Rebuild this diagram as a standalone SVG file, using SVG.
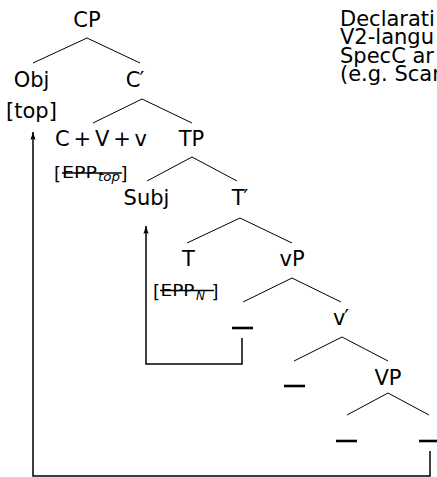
<svg xmlns="http://www.w3.org/2000/svg" width="437" height="477" viewBox="0 0 437 477">
  <style>
    text { font-family: "DejaVu Sans", "Liberation Sans", sans-serif; fill: #000; }
    .lab { font-size: 21px; text-anchor: middle; }
    .note { font-size: 21px; }
    .br { font-size: 18px; }
    .feat { font-size: 15px; }
    .sub { font-size: 12px; font-style: italic; }
    .branch { stroke: #000; stroke-width: 1; fill: none; }
    .move { stroke: #000; stroke-width: 1.5; fill: none; stroke-linejoin: miter; }
    .strike { stroke: #000; stroke-width: 1.6; }
    .trace { stroke: #000; stroke-width: 2.6; }
  </style>
  <defs>
    <marker id="head" viewBox="-4 -4 10 8" markerWidth="10" markerHeight="8" refX="5" refY="0" orient="auto" markerUnits="userSpaceOnUse">
      <path d="M5,0 L-3,-2.6 L-1.5,0 L-3,2.6 Z" fill="#000"/>
    </marker>
  </defs>

  <!-- tree branches and movement arrows -->
  <g id="connectors">
    <line class="branch" x1="87" y1="38" x2="33" y2="63"/>
    <line class="branch" x1="87" y1="38" x2="140" y2="63"/>
    <line class="branch" x1="142" y1="99" x2="93" y2="123"/>
    <line class="branch" x1="142" y1="99" x2="192" y2="123"/>
    <line class="branch" x1="192" y1="157" x2="147" y2="181"/>
    <line class="branch" x1="192" y1="157" x2="237" y2="181"/>
    <line class="branch" x1="240" y1="218" x2="187" y2="243"/>
    <line class="branch" x1="240" y1="218" x2="292" y2="243"/>
    <line class="branch" x1="292" y1="278" x2="243" y2="302"/>
    <line class="branch" x1="292" y1="278" x2="341" y2="302"/>
    <line class="branch" x1="342" y1="337" x2="294" y2="361"/>
    <line class="branch" x1="342" y1="337" x2="388" y2="361"/>
    <line class="branch" x1="388" y1="393" x2="347" y2="415"/>
    <line class="branch" x1="388" y1="393" x2="429" y2="415"/>
    <path class="move" d="M242,338 V364 H146 V226" marker-end="url(#head)"/>
    <path class="move" d="M430,451 V476 H33 V132" marker-end="url(#head)"/>
  </g>

  <g id="CP"><text class="lab" x="87" y="27">CP</text></g>
  <g id="Obj">
    <text class="lab" x="31.5" y="87">Obj</text>
    <text class="lab" x="31.5" y="118">[top]</text>
  </g>
  <g id="C-bar"><text class="lab" x="135" y="87">C<tspan dx="-1">′</tspan></text></g>
  <g id="C-head">
    <text class="note" x="55" y="146" textLength="92" lengthAdjust="spacing">C+V+v</text>
    <text class="br" x="54" y="179.5">[</text>
    <text class="feat" x="62" y="178" textLength="35" lengthAdjust="spacingAndGlyphs">EPP</text>
    <text class="sub" x="98" y="181" textLength="22" lengthAdjust="spacingAndGlyphs">top</text>
    <text class="br" x="120.5" y="179.5">]</text>
    <line class="strike" x1="62" y1="173" x2="122" y2="173"/>
  </g>
  <g id="TP"><text class="lab" x="191.5" y="146">TP</text></g>
  <g id="Subj"><text class="lab" x="146.5" y="205">Subj</text></g>
  <g id="T-bar"><text class="lab" x="240" y="205">T<tspan dx="-1">′</tspan></text></g>
  <g id="T-head">
    <text class="lab" x="188.5" y="266">T</text>
    <text class="br" x="153" y="298">[</text>
    <text class="feat" x="160.5" y="296" textLength="34" lengthAdjust="spacingAndGlyphs">EPP</text>
    <text class="sub" x="196" y="300">N</text>
    <text class="br" x="211.5" y="298">]</text>
    <line class="strike" x1="160" y1="290.5" x2="214" y2="290.5"/>
  </g>
  <g id="vP"><text class="lab" x="292" y="266">vP</text></g>
  <g id="subj-trace"><line class="trace" x1="232" y1="328" x2="253" y2="328"/></g>
  <g id="v-bar"><text class="lab" x="341" y="325">v<tspan dx="-1">′</tspan></text></g>
  <g id="v-trace"><line class="trace" x1="284" y1="386" x2="305" y2="386"/></g>
  <g id="VP"><text class="lab" x="388" y="385">VP</text></g>
  <g id="V-trace"><line class="trace" x1="336" y1="441" x2="357" y2="441"/></g>
  <g id="obj-trace"><line class="trace" x1="419" y1="441" x2="440" y2="441"/></g>

  <g id="caption">
    <text class="note" x="340" y="26">Declarati</text>
    <text class="note" x="340" y="44.4">V2-langu</text>
    <text class="note" x="340" y="62.8">SpecC ar</text>
    <text class="note" x="340" y="81.2">(e.g. Scar</text>
  </g>
</svg>
